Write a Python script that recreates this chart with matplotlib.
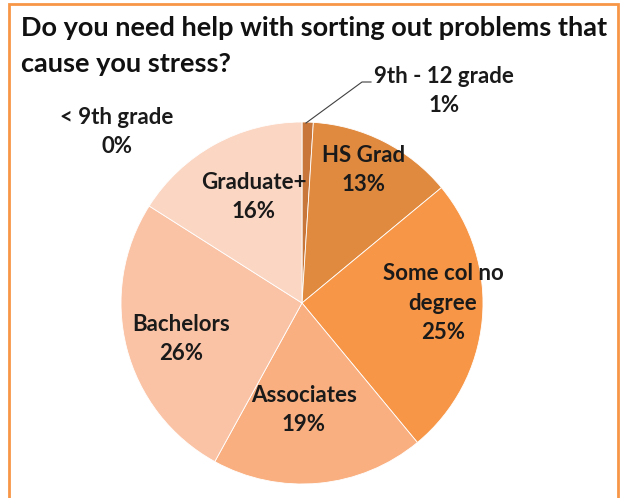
import matplotlib.pyplot as plt
from matplotlib.patches import Rectangle

# survey answers by education level
categorias = ["< 9th grade", "9th - 12 grade", "HS Grad", "Some col no\ndegree",
              "Associates", "Bachelors", "Graduate+"]
porcentajes = [0, 1, 13, 25, 19, 26, 16]
colores = ["#A85A22", "#C8763A", "#E08A40", "#F79646", "#F9AF80", "#FAC3A6", "#FBD6C3"]

titulo = ["Do you need help with sorting out problems that", "cause you stress?"]

W, H = 620, 498
cx, cy, R = 302, 303, 181  # centro y radio en pixeles

fig = plt.figure(figsize=(W / 100, H / 100), dpi=100)
ax = fig.add_axes([(cx - R) / W, (H - cy - R) / H, 2 * R / W, 2 * R / H])

ax.pie(porcentajes, colors=colores, startangle=90, counterclock=False, radius=1,
       wedgeprops=dict(edgecolor="white", linewidth=0.6))
ax.set_xlim(-1, 1)
ax.set_ylim(-1, 1)
ax.set_aspect("equal")
ax.axis("off")


def px(x, y):
    # pixel -> coordenadas del pie
    return (x - cx) / R, (cy - y) / R


# posicion (centro del bloque de texto) de cada etiqueta
pos_etiquetas = [(117, 132), (444, 91), (364, 170), (443, 303),
                 (304, 410), (181, 339), (254, 197)]

fuente = dict(family=["Lato", "DejaVu Sans"], fontweight="bold", fontsize=16,
              color="#1a1a1a", ha="center", va="center", linespacing=1.5)

for cat, val, (x, y) in zip(categorias, porcentajes, pos_etiquetas):
    tx, ty = px(x, y)
    ax.text(tx, ty, f"{cat}\n{val}%", clip_on=False, **fuente)

# linea guia para la etiqueta de 9th - 12 grade
p0 = px(306, 123)
p1 = px(362, 82)
p2 = px(371, 82)
ax.plot([p0[0], p1[0], p2[0]], [p0[1], p1[1], p2[1]], color="#404040", lw=0.8,
        clip_on=False)

# titulo en dos lineas
for i, linea in enumerate(titulo):
    fig.text(21 / W, 1 - (28 + 36 * i) / H, linea, family=["Lato", "DejaVu Sans"],
             fontweight="bold", fontsize=19.5, color="#111111", ha="left",
             va="center")

# borde naranja del grafico
fig.patches.append(Rectangle((9 / W, -0.05), 609 / W, 1.05 - 4 / H,
                             transform=fig.transFigure, fill=False,
                             edgecolor="#F79646", linewidth=2))

fig.savefig("out.png", dpi=100, facecolor="white")
